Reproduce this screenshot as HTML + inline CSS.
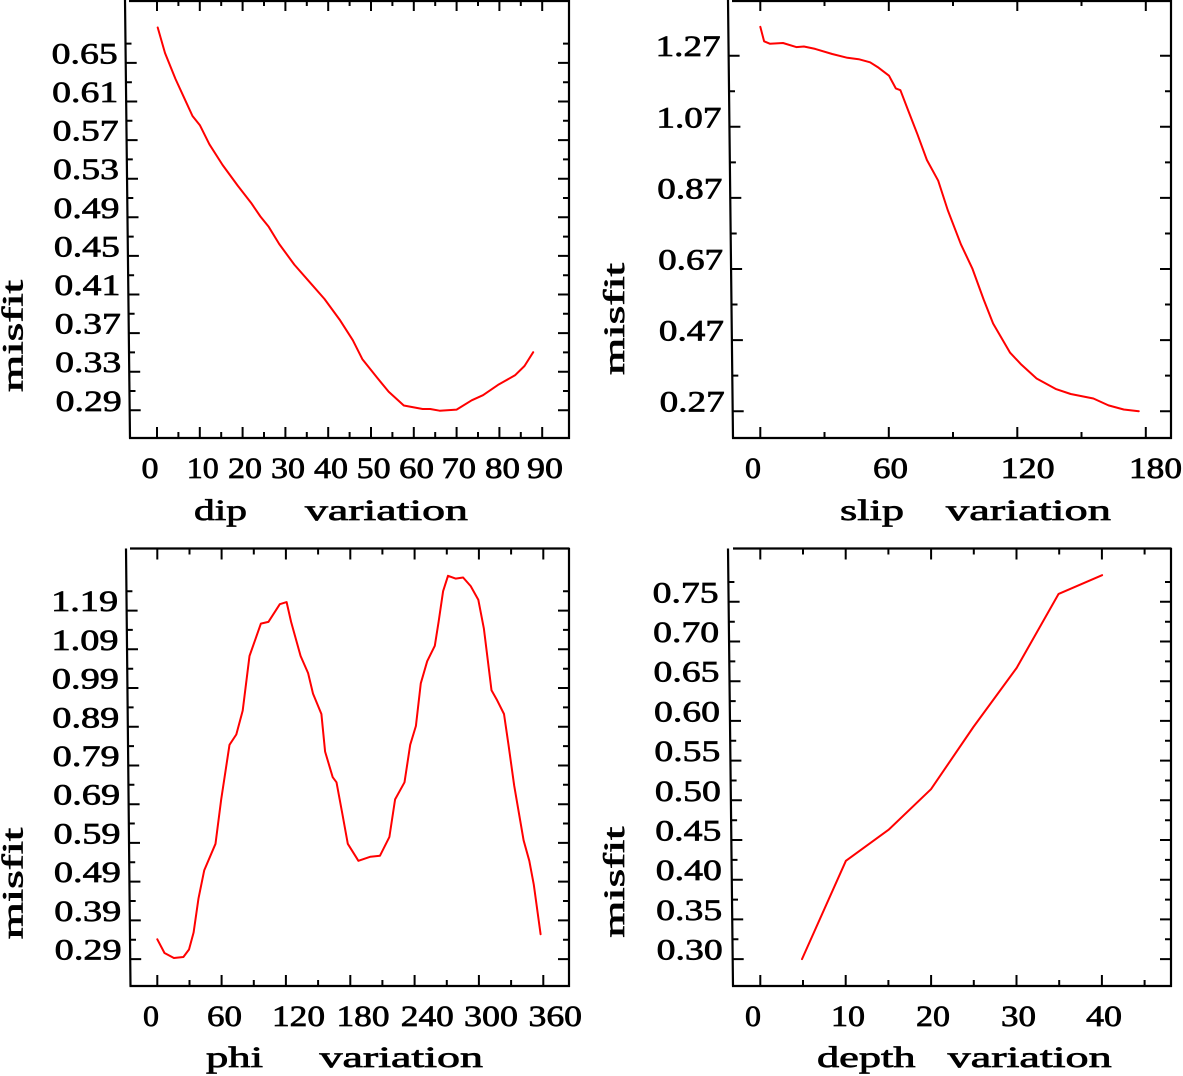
<!DOCTYPE html>
<html><head><meta charset="utf-8"><style>
html,body{margin:0;padding:0;background:#fff;}
svg{display:block;}
text{font-family:"Liberation Serif","DejaVu Serif",serif;font-size:30px;fill:#000;stroke:#000;stroke-width:0.7px;}
</style></head><body>
<svg width="1183" height="1076" viewBox="0 0 1183 1076" xmlns="http://www.w3.org/2000/svg">
<rect width="1183" height="1076" fill="#fff"/>
<g fill="none" stroke="#000" stroke-width="2.2">
<!-- frames -->
<path d="M125 0L130 438.5M129 1H569.5M569 0V439M129 438H570"/>
<path d="M728 0L733 438.5M732 1H1171.5M1171 0V439M732 438H1172"/>
<path d="M126 548.5L130.5 986.5M130 548.5H569.5M569 548V987M129.5 986H570"/>
<path d="M728 548.5L733 986.5M733 548.5H1171.5M1171 548V987M732 986H1172"/>
</g>
<g fill="none" stroke="#000" stroke-width="2">
<!-- panel1 ticks -->
<path d="M157 438v-11M199.8 438v-11M242.6 438v-11M285.4 438v-11M328.2 438v-11M371 438v-11M413.8 438v-11M456.6 438v-11M499.4 438v-11M542.2 438v-11
M178.4 438v-6M221.2 438v-6M264 438v-6M306.8 438v-6M349.6 438v-6M392.4 438v-6M435.2 438v-6M478 438v-6M520.8 438v-6
M157 0v11M199.8 0v11M242.6 0v11M285.4 0v11M328.2 0v11M371 0v11M413.8 0v11M456.6 0v11M499.4 0v11M542.2 0v11
M178.4 0v6M221.2 0v6M264 0v6M306.8 0v6M349.6 0v6M392.4 0v6M435.2 0v6M478 0v6M520.8 0v6
M125.7 62.9h11M126.2 101.5h11M126.6 140.1h11M127 178.7h11M127.5 217.3h11M127.9 255.9h11M128.4 294.5h11M128.8 333.1h11M129.2 371.7h11M129.7 410.3h11
M125.5 43.6h6M125.9 82.2h6M126.4 120.8h6M126.8 159.4h6M127.3 198h6M127.7 236.6h6M128.1 275.2h6M128.6 313.8h6M129 352.4h6M129.5 391h6
M569 62.9h-11M569 101.5h-11M569 140.1h-11M569 178.7h-11M569 217.3h-11M569 255.9h-11M569 294.5h-11M569 333.1h-11M569 371.7h-11M569 410.3h-11
M569 43.6h-6M569 82.2h-6M569 120.8h-6M569 159.4h-6M569 198h-6M569 236.6h-6M569 275.2h-6M569 313.8h-6M569 352.4h-6M569 391h-6"/>
<!-- panel2 ticks -->
<path d="M760.3 438v-11M888.8 438v-11M1017.3 438v-11M1145.8 438v-11M824.5 438v-6M953 438v-6M1081.5 438v-6
M760.3 0v11M888.8 0v11M1017.3 0v11M1145.8 0v11M824.5 0v6M953 0v6M1081.5 0v6
M728.6 55.7h11M729.4 126.8h11M730.3 197.9h11M731.1 269h11M731.9 340.1h11M732.7 411.2h11
M729 91.25h6M729.9 162.35h6M730.7 233.45h6M731.5 304.55h6M732.3 375.65h6
M1171 55.7h-11M1171 126.8h-11M1171 197.9h-11M1171 269h-11M1171 340.1h-11M1171 411.2h-11
M1171 91.25h-6M1171 162.35h-6M1171 233.45h-6M1171 304.55h-6M1171 375.65h-6"/>
<!-- panel3 ticks -->
<path d="M157.3 986v-11M221.6 986v-11M285.9 986v-11M350.3 986v-11M414.6 986v-11M478.9 986v-11M543.3 986v-11
M189.5 986v-6M253.8 986v-6M318.1 986v-6M382.4 986v-6M446.8 986v-6M511.1 986v-6
M157.3 548.5v11M221.6 548.5v11M285.9 548.5v11M350.3 548.5v11M414.6 548.5v11M478.9 548.5v11M543.3 548.5v11
M189.5 548.5v6M253.8 548.5v6M318.1 548.5v6M382.4 548.5v6M446.8 548.5v6M511.1 548.5v6
M126.6 610.6h11M127 649.3h11M127.4 688h11M127.8 726.8h11M128.2 765.5h11M128.6 804.2h11M129 842.9h11M129.4 881.6h11M129.8 920.4h11M130.2 959.1h11
M126.4 591.2h6M126.8 629.9h6M127.2 668.7h6M127.6 707.4h6M128 746.1h6M128.4 784.8h6M128.8 823.5h6M129.2 862.3h6M129.7 901h6M130 939.7h6
M569 610.6h-11M569 649.3h-11M569 688h-11M569 726.8h-11M569 765.5h-11M569 804.2h-11M569 842.9h-11M569 881.6h-11M569 920.4h-11M569 959.1h-11
M569 591.2h-6M569 629.9h-6M569 668.7h-6M569 707.4h-6M569 746.1h-6M569 784.8h-6M569 823.5h-6M569 862.3h-6M569 901h-6M569 939.7h-6"/>
<!-- panel4 ticks -->
<path d="M760.3 986v-11M845.7 986v-11M931.1 986v-11M1016.5 986v-11M1101.9 986v-11
M803 986v-6M888.4 986v-6M973.8 986v-6M1059.2 986v-6M1144.6 986v-6
M760.3 548.5v11M845.7 548.5v11M931.1 548.5v11M1016.5 548.5v11M1101.9 548.5v11
M803 548.5v6M888.4 548.5v6M973.8 548.5v6M1059.2 548.5v6M1144.6 548.5v6
M728.6 601.8h11M729.1 641.5h11M729.5 681.2h11M730 720.9h11M730.4 760.6h11M730.9 800.3h11M731.3 840h11M731.8 879.7h11M732.2 919.4h11M732.7 959.1h11
M728.4 582h6M728.8 621.7h6M729.3 661.4h6M729.7 701.1h6M730.2 740.8h6M730.6 780.5h6M731.1 820.2h6M731.5 859.9h6M732 899.6h6M732.4 939.3h6
M1171 601.8h-11M1171 641.5h-11M1171 681.2h-11M1171 720.9h-11M1171 760.6h-11M1171 800.3h-11M1171 840h-11M1171 879.7h-11M1171 919.4h-11M1171 959.1h-11
M1171 582h-6M1171 621.7h-6M1171 661.4h-6M1171 701.1h-6M1171 740.8h-6M1171 780.5h-6M1171 820.2h-6M1171 859.9h-6M1171 899.6h-6M1171 939.3h-6"/>
</g>

<!-- curves -->
<g fill="none" stroke="#ff0000" stroke-width="2" stroke-linejoin="round" stroke-linecap="round">
<polyline points="157.7,27.5 165,53 175.5,79 185,99.7 192.5,116 200,125.4 209.4,144.3 222.6,165 237.7,185.6 251,202.7 260.4,216.5 268.7,226.8 279.2,244 294.3,264.6 309.4,281.8 324.5,299 339.6,319.6 352.8,340.2 362.3,359.1 377.4,378 388.7,391.8 403.8,405.5 422.6,409 430.2,409 439.6,410.7 456.6,409.6 471.7,400.3 483,395.2 498,384.9 515,375.3 524.5,366 533.2,352.2"/>
<polyline points="760.3,26.8 764.1,41.3 769.8,43.7 783,43 796.3,47.1 803.9,46.5 815.2,48.9 832.2,54 847.4,57.8 858.7,59.2 870.1,62.3 877.7,67.1 889,75.7 895.8,88.4 900.4,90.2 908,110 917.4,134.2 926.9,160 938.2,180.7 947.7,210 960.9,244.3 972.3,268.4 983.6,299.4 993.1,323.5 1010.1,352.7 1021.5,364.8 1036.6,378.5 1055.6,388.9 1070.7,394 1093.4,398.5 1108.5,405.4 1123.7,409.5 1138.8,411.2"/>
<polyline points="157.3,939.3 164.5,953 173.9,958 183.4,957 189,949.5 193.6,932.5 198.5,898.4 204.2,870.4 215.5,843.8 221.2,799.4 229.5,744.8 236.3,734.5 242.7,710.6 249.5,656 260.9,623.6 268.4,621.9 279.8,604.2 286.6,602.1 291.1,621.9 300.6,656 308.1,673.1 313,693.6 321.4,714 325.1,751.6 332.7,777.2 336.5,782.3 342.2,813 347.8,843.8 358.4,860.8 370.5,856.7 380,855.7 389.4,836.9 395.1,799.4 404.5,782.3 410.2,744.8 415.9,726 420.8,683.3 427.2,661.2 434.8,645.8 438.6,621.9 443.1,591.2 448,575.8 455.6,578.6 463.1,577.5 470.7,586.1 478.3,599.7 483.9,628.7 491.5,690.2 497.2,700.4 504,714 508.5,744.8 514.2,785.7 523.6,840.3 529.3,860.8 533.8,884.7 540.6,934.2"/>
<polyline points="802,959.1 845.9,860.8 889,829.4 931,789.2 973.4,727 1016.6,668 1058.6,593.9 1102.1,575.2"/>
</g>

<!-- y tick labels -->
<g lengthAdjust="spacingAndGlyphs">
<text x="51.7" y="63.4" textLength="66" lengthAdjust="spacingAndGlyphs">0.65</text>
<text x="52.2" y="102" textLength="66" lengthAdjust="spacingAndGlyphs">0.61</text>
<text x="52.6" y="140.6" textLength="66" lengthAdjust="spacingAndGlyphs">0.57</text>
<text x="53" y="179.2" textLength="66" lengthAdjust="spacingAndGlyphs">0.53</text>
<text x="53.5" y="217.8" textLength="66" lengthAdjust="spacingAndGlyphs">0.49</text>
<text x="53.9" y="256.4" textLength="66" lengthAdjust="spacingAndGlyphs">0.45</text>
<text x="54.4" y="295" textLength="66" lengthAdjust="spacingAndGlyphs">0.41</text>
<text x="54.8" y="333.6" textLength="66" lengthAdjust="spacingAndGlyphs">0.37</text>
<text x="55.2" y="372.2" textLength="66" lengthAdjust="spacingAndGlyphs">0.33</text>
<text x="55.7" y="410.8" textLength="66" lengthAdjust="spacingAndGlyphs">0.29</text>

<text x="655.6" y="56.2" textLength="65" lengthAdjust="spacingAndGlyphs">1.27</text>
<text x="656.4" y="127.3" textLength="65" lengthAdjust="spacingAndGlyphs">1.07</text>
<text x="657.3" y="198.4" textLength="65" lengthAdjust="spacingAndGlyphs">0.87</text>
<text x="658.1" y="269.5" textLength="65" lengthAdjust="spacingAndGlyphs">0.67</text>
<text x="658.9" y="340.6" textLength="65" lengthAdjust="spacingAndGlyphs">0.47</text>
<text x="659.7" y="411.7" textLength="65" lengthAdjust="spacingAndGlyphs">0.27</text>

<text x="51.1" y="611.1" textLength="67" lengthAdjust="spacingAndGlyphs">1.19</text>
<text x="51.5" y="649.8" textLength="67" lengthAdjust="spacingAndGlyphs">1.09</text>
<text x="51.9" y="688.5" textLength="67" lengthAdjust="spacingAndGlyphs">0.99</text>
<text x="52.3" y="727.3" textLength="67" lengthAdjust="spacingAndGlyphs">0.89</text>
<text x="52.7" y="766" textLength="67" lengthAdjust="spacingAndGlyphs">0.79</text>
<text x="53.1" y="804.7" textLength="67" lengthAdjust="spacingAndGlyphs">0.69</text>
<text x="53.5" y="843.4" textLength="67" lengthAdjust="spacingAndGlyphs">0.59</text>
<text x="53.9" y="882.1" textLength="67" lengthAdjust="spacingAndGlyphs">0.49</text>
<text x="54.3" y="920.9" textLength="67" lengthAdjust="spacingAndGlyphs">0.39</text>
<text x="54.7" y="959.6" textLength="67" lengthAdjust="spacingAndGlyphs">0.29</text>

<text x="652.6" y="602.3" textLength="66" lengthAdjust="spacingAndGlyphs">0.75</text>
<text x="653.1" y="642" textLength="66" lengthAdjust="spacingAndGlyphs">0.70</text>
<text x="653.5" y="681.7" textLength="66" lengthAdjust="spacingAndGlyphs">0.65</text>
<text x="654" y="721.4" textLength="66" lengthAdjust="spacingAndGlyphs">0.60</text>
<text x="654.4" y="761.1" textLength="66" lengthAdjust="spacingAndGlyphs">0.55</text>
<text x="654.9" y="800.8" textLength="66" lengthAdjust="spacingAndGlyphs">0.50</text>
<text x="655.3" y="840.5" textLength="66" lengthAdjust="spacingAndGlyphs">0.45</text>
<text x="655.8" y="880.2" textLength="66" lengthAdjust="spacingAndGlyphs">0.40</text>
<text x="656.2" y="919.9" textLength="66" lengthAdjust="spacingAndGlyphs">0.35</text>
<text x="656.7" y="959.6" textLength="66" lengthAdjust="spacingAndGlyphs">0.30</text>
</g>

<!-- x tick labels -->
<text x="141.5" y="478" textLength="17" lengthAdjust="spacingAndGlyphs">0</text>
<text x="186.8" y="478" textLength="32" lengthAdjust="spacingAndGlyphs">10</text>
<text x="228" y="478" textLength="34" lengthAdjust="spacingAndGlyphs">20</text>
<text x="271" y="478" textLength="34" lengthAdjust="spacingAndGlyphs">30</text>
<text x="314" y="478" textLength="34" lengthAdjust="spacingAndGlyphs">40</text>
<text x="356.6" y="478" textLength="34" lengthAdjust="spacingAndGlyphs">50</text>
<text x="399" y="478" textLength="35" lengthAdjust="spacingAndGlyphs">60</text>
<text x="441.5" y="478" textLength="34.5" lengthAdjust="spacingAndGlyphs">70</text>
<text x="485" y="478" textLength="35" lengthAdjust="spacingAndGlyphs">80</text>
<text x="527" y="478" textLength="36" lengthAdjust="spacingAndGlyphs">90</text>

<text x="745" y="478" textLength="16" lengthAdjust="spacingAndGlyphs">0</text>
<text x="873" y="478" textLength="35" lengthAdjust="spacingAndGlyphs">60</text>
<text x="1000.7" y="478" textLength="54" lengthAdjust="spacingAndGlyphs">120</text>
<text x="1129" y="478" textLength="53" lengthAdjust="spacingAndGlyphs">180</text>

<text x="143" y="1026" textLength="16" lengthAdjust="spacingAndGlyphs">0</text>
<text x="207" y="1026" textLength="35" lengthAdjust="spacingAndGlyphs">60</text>
<text x="272" y="1026" textLength="53" lengthAdjust="spacingAndGlyphs">120</text>
<text x="336.5" y="1026" textLength="53" lengthAdjust="spacingAndGlyphs">180</text>
<text x="400.8" y="1026" textLength="53" lengthAdjust="spacingAndGlyphs">240</text>
<text x="464" y="1026" textLength="54" lengthAdjust="spacingAndGlyphs">300</text>
<text x="528.5" y="1026" textLength="53.5" lengthAdjust="spacingAndGlyphs">360</text>

<text x="745" y="1026" textLength="16" lengthAdjust="spacingAndGlyphs">0</text>
<text x="831" y="1026" textLength="34" lengthAdjust="spacingAndGlyphs">10</text>
<text x="916" y="1026" textLength="34" lengthAdjust="spacingAndGlyphs">20</text>
<text x="1001" y="1026" textLength="35" lengthAdjust="spacingAndGlyphs">30</text>
<text x="1086" y="1026" textLength="36" lengthAdjust="spacingAndGlyphs">40</text>

<!-- x titles -->
<text x="194" y="520" textLength="53" lengthAdjust="spacingAndGlyphs">dip</text>
<text x="305" y="520" textLength="163" lengthAdjust="spacingAndGlyphs">variation</text>
<text x="840" y="520" textLength="64" lengthAdjust="spacingAndGlyphs">slip</text>
<text x="946" y="520" textLength="165" lengthAdjust="spacingAndGlyphs">variation</text>
<text x="206" y="1067" textLength="57" lengthAdjust="spacingAndGlyphs">phi</text>
<text x="319.5" y="1067" textLength="163.5" lengthAdjust="spacingAndGlyphs">variation</text>
<text x="817" y="1067" textLength="98.5" lengthAdjust="spacingAndGlyphs">depth</text>
<text x="947.7" y="1067" textLength="164" lengthAdjust="spacingAndGlyphs">variation</text>

<!-- y titles -->
<text transform="translate(22.5 392) rotate(-90)" x="0" y="0" textLength="112" lengthAdjust="spacingAndGlyphs">misfit</text>
<text transform="translate(624 375) rotate(-90)" x="0" y="0" textLength="112" lengthAdjust="spacingAndGlyphs">misfit</text>
<text transform="translate(22.5 939.3) rotate(-90)" x="0" y="0" textLength="111.6" lengthAdjust="spacingAndGlyphs">misfit</text>
<text transform="translate(624 937.6) rotate(-90)" x="0" y="0" textLength="111" lengthAdjust="spacingAndGlyphs">misfit</text>
</svg>
</body></html>
